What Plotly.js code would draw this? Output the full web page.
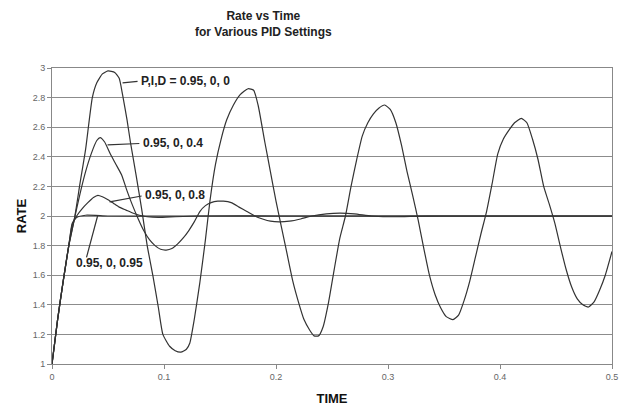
<!DOCTYPE html>
<html>
<head>
<meta charset="utf-8">
<script src="https://cdn.plot.ly/plotly-3.0.1.min.js"></script>
<style>html,body{margin:0;padding:0;background:#fff;}#chart{width:622px;height:406px;}</style>
</head>
<body>
<div id="chart"></div>
<script>
// Curve P,I,D = 0.95, 0, 0
const tA = [0,0.005,0.01,0.015,0.02,0.025,0.03,0.036,0.04,0.045,0.05,0.056,0.06,0.063,0.067,0.07,0.075,0.08,0.085,0.09,0.095,0.099,0.105,0.11,0.115,0.12,0.123,0.127,0.132,0.137,0.141,0.146,0.151,0.156,0.162,0.168,0.175,0.18,0.184,0.19,0.195,0.2,0.205,0.21,0.215,0.22,0.225,0.23,0.234,0.238,0.242,0.247,0.252,0.257,0.262,0.267,0.272,0.277,0.282,0.287,0.292,0.297,0.302,0.307,0.312,0.317,0.322,0.327,0.332,0.337,0.342,0.347,0.352,0.358,0.363,0.368,0.373,0.378,0.383,0.388,0.393,0.398,0.403,0.408,0.413,0.419,0.424,0.429,0.434,0.439,0.444,0.449,0.454,0.459,0.464,0.469,0.474,0.479,0.484,0.489,0.494,0.5];
const vA = [1,1.3,1.56,1.8,1.98,2.22,2.45,2.8,2.9,2.96,2.98,2.97,2.93,2.82,2.65,2.5,2.28,2.05,1.8,1.6,1.38,1.2,1.12,1.09,1.08,1.1,1.14,1.3,1.55,1.84,2.1,2.35,2.52,2.65,2.75,2.82,2.86,2.85,2.75,2.5,2.3,2.1,1.92,1.74,1.56,1.42,1.3,1.23,1.19,1.19,1.25,1.42,1.64,1.85,2.0,2.2,2.38,2.54,2.63,2.69,2.73,2.75,2.72,2.63,2.48,2.3,2.14,1.97,1.78,1.6,1.47,1.38,1.32,1.3,1.33,1.43,1.56,1.72,1.88,2.03,2.22,2.42,2.52,2.58,2.63,2.66,2.63,2.52,2.38,2.2,2.08,1.95,1.79,1.64,1.52,1.44,1.4,1.385,1.42,1.5,1.6,1.76];
// Curve 0.95, 0, 0.4
const tB = [0,0.005,0.01,0.015,0.02,0.025,0.03,0.035,0.04,0.043,0.047,0.052,0.057,0.062,0.067,0.072,0.077,0.082,0.087,0.092,0.097,0.102,0.107,0.112,0.117,0.122,0.127,0.132,0.137,0.142,0.148,0.153,0.16,0.167,0.174,0.181,0.188,0.195,0.203,0.212,0.222,0.232,0.245,0.257,0.27,0.285,0.3,0.32,0.35,0.4,0.45,0.5];
const vB = [1,1.3,1.56,1.8,1.98,2.15,2.3,2.42,2.51,2.53,2.5,2.42,2.35,2.28,2.17,2.07,1.98,1.9,1.84,1.8,1.775,1.77,1.78,1.81,1.85,1.9,1.96,2.03,2.07,2.09,2.1,2.1,2.09,2.06,2.03,2.0,1.98,1.965,1.96,1.965,1.98,2.0,2.015,2.02,2.015,2.0,1.995,1.997,2.0,2.0,2.0,2.0];
// Curve 0.95, 0, 0.8
const tC = [0,0.005,0.01,0.015,0.018,0.022,0.027,0.032,0.037,0.041,0.045,0.05,0.055,0.06,0.066,0.072,0.078,0.085,0.095,0.11,0.13,0.2,0.3,0.4,0.5];
const vC = [1,1.3,1.56,1.8,1.94,2.0,2.05,2.09,2.125,2.14,2.13,2.11,2.085,2.06,2.04,2.02,2.005,1.995,1.99,1.995,2.0,2.0,2.0,2.0,2.0];
// Curve 0.95, 0, 0.95
const tD = [0,0.005,0.01,0.015,0.018,0.022,0.03,0.05,0.1,0.2,0.3,0.4,0.5];
const vD = [1,1.3,1.56,1.8,1.95,1.99,2.005,2.0,2.0,2.0,2.0,2.0,2.0];

// Labels: text, leader start (on curve), leader end (at label)
const labelText = ["P,I,D = 0.95, 0, 0", "0.95, 0, 0.4", "0.95, 0, 0.8", "0.95, 0, 0.95"];
const leadFromT = [0.063, 0.0496, 0.0514, 0.0407];
const leadFromV = [2.90, 2.48, 2.095, 2.0];
const leadToT = [0.0764, 0.078, 0.080, 0.0308];
const leadToV = [2.91, 2.49, 2.135, 1.72];
const labelT = [0.078, 0.0795, 0.0815, 0.0514];
const labelV = [2.91, 2.49, 2.14, 1.68];
const labelAnchor = ["left", "left", "left", "center"];

const yTicks = [1,1.2,1.4,1.6,1.8,2,2.2,2.4,2.6,2.8,3];
const xTicks = [0,0.1,0.2,0.3,0.4,0.5];

const lineStyle = {color: '#333333', width: 1.2};
const traces = [[tA,vA],[tB,vB],[tC,vC],[tD,vD]].map(p => ({
  x: p[0], y: p[1], type: 'scatter', mode: 'lines',
  line: Object.assign({shape: 'spline', smoothing: 0.5}, lineStyle),
  hoverinfo: 'skip'
}));

const shapes = labelText.map((t, i) => ({
  type: 'line', xref: 'x', yref: 'y',
  x0: leadFromT[i], y0: leadFromV[i], x1: leadToT[i], y1: leadToV[i],
  line: {color: '#333333', width: 1.2}
}));
const annotations = labelText.map((t, i) => ({
  text: '<b>' + t + '</b>', xref: 'x', yref: 'y', x: labelT[i], y: labelV[i],
  xanchor: labelAnchor[i], yanchor: 'middle', showarrow: false,
  font: {family: 'Liberation Sans, Arial, sans-serif', size: 12, color: '#222'}
}));
annotations.push({
  text: '<b>Rate vs Time</b><br><b>for Various PID Settings</b>',
  xref: 'paper', yref: 'paper', x: (263 - 52) / 560, y: 1 + (68 - 24) / 296,
  xanchor: 'center', yanchor: 'middle', showarrow: false, align: 'center',
  font: {family: 'Liberation Sans, Arial, sans-serif', size: 12, color: '#222'}
});

const layout = {
  width: 622, height: 406,
  margin: {l: 52, r: 10, t: 68, b: 42, pad: 0},
  paper_bgcolor: '#fff', plot_bgcolor: '#fff',
  showlegend: false,
  font: {family: 'Liberation Sans, Arial, sans-serif'},
  xaxis: {
    range: [0, 0.5], tickvals: xTicks, ticktext: xTicks.map(String),
    showgrid: false, zeroline: false,
    showline: true, mirror: true, linecolor: '#888', linewidth: 1,
    ticks: 'outside', ticklen: 4, tickcolor: '#888',
    tickfont: {size: 9, color: '#666'},
    title: {text: '<b>TIME</b>', font: {size: 13, color: '#111'}, standoff: 13}
  },
  yaxis: {
    range: [1, 3], tickvals: yTicks, ticktext: yTicks.map(String),
    showgrid: true, gridcolor: '#8c8c8c', gridwidth: 1, zeroline: false,
    showline: true, mirror: true, linecolor: '#888', linewidth: 1,
    ticks: 'outside', ticklen: 4, tickcolor: '#888',
    tickfont: {size: 9, color: '#666'},
    title: {text: '<b>RATE</b>', font: {size: 13, color: '#111'}, standoff: 3}
  },
  shapes: shapes,
  annotations: annotations
};

Plotly.newPlot('chart', traces, layout, {staticPlot: true, displayModeBar: false});
</script>
</body>
</html>
